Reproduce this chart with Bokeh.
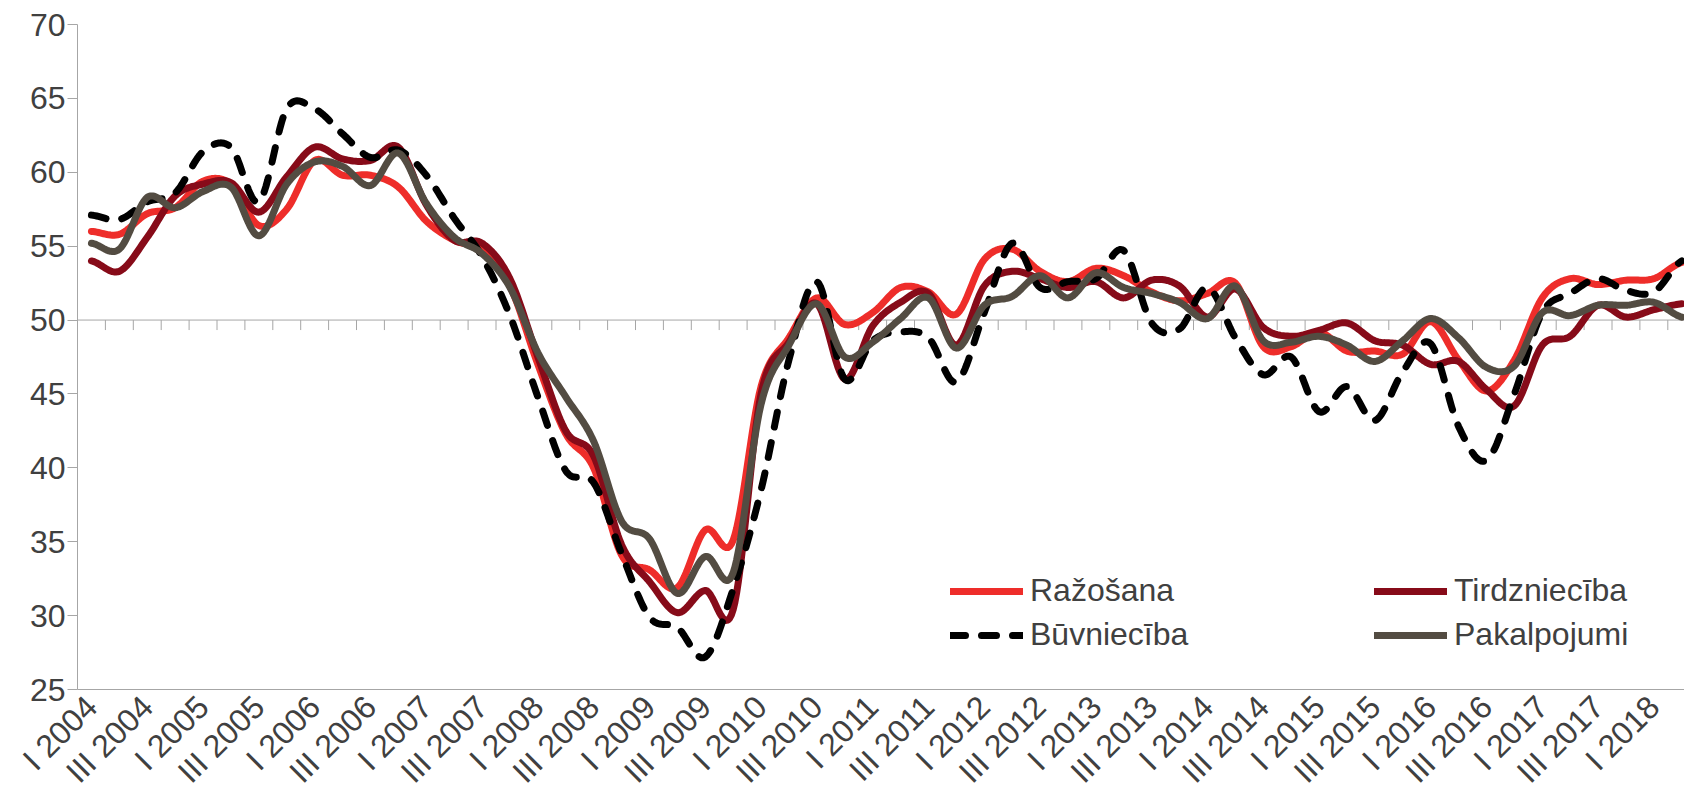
import math
from bokeh.plotting import figure
from bokeh.models import Range1d, FixedTicker, LinearAxis, Legend, LegendItem, Span
from bokeh.embed import file_html
from bokeh.resources import INLINE

categories = [
    "I 2004", "II 2004", "III 2004", "IV 2004",
    "I 2005", "II 2005", "III 2005", "IV 2005",
    "I 2006", "II 2006", "III 2006", "IV 2006",
    "I 2007", "II 2007", "III 2007", "IV 2007",
    "I 2008", "II 2008", "III 2008", "IV 2008",
    "I 2009", "II 2009", "III 2009", "IV 2009",
    "I 2010", "II 2010", "III 2010", "IV 2010",
    "I 2011", "II 2011", "III 2011", "IV 2011",
    "I 2012", "II 2012", "III 2012", "IV 2012",
    "I 2013", "II 2013", "III 2013", "IV 2013",
    "I 2014", "II 2014", "III 2014", "IV 2014",
    "I 2015", "II 2015", "III 2015", "IV 2015",
    "I 2016", "II 2016", "III 2016", "IV 2016",
    "I 2017", "II 2017", "III 2017", "IV 2017",
    "I 2018", "II 2018",
]
tick_labels = categories[::2]

razosana = [56.0, 55.8, 57.2, 57.6, 59.4, 59.2, 56.4, 57.5, 60.8, 59.8,
            59.8, 59.0, 56.7, 55.4, 54.7, 52.3, 47.0, 42.3, 40.0, 34.1,
            33.1, 31.9, 35.8, 35.1, 45.5, 48.8, 51.5, 49.7, 50.5, 52.2,
            51.9, 50.4, 54.1, 54.8, 53.3, 52.6, 53.5, 53.0, 51.9, 51.3,
            51.8, 52.5, 48.2, 48.2, 49.2, 47.9, 47.9, 47.7, 49.9, 47.3,
            45.2, 47.3, 51.5, 52.8, 52.4, 52.7, 52.8, 53.9]
tirdznieciba = [54.0, 53.3, 55.6, 58.4, 59.2, 59.3, 57.3, 59.7, 61.7, 60.9,
                60.8, 61.7, 57.8, 55.4, 55.2, 52.8, 47.5, 42.5, 40.8, 34.8,
                32.3, 30.2, 31.7, 30.4, 45.0, 48.5, 51.1, 46.0, 49.6, 51.2,
                51.8, 48.3, 52.3, 53.3, 52.8, 52.2, 52.6, 51.5, 52.7, 52.3,
                50.2, 52.1, 49.5, 48.9, 49.3, 49.8, 48.6, 48.3, 47.0, 47.2,
                45.3, 44.2, 48.3, 48.9, 51.0, 50.2, 50.7, 51.1]
buvnieciba = [57.1, 56.8, 58.0, 58.6, 61.4, 61.7, 58.0, 64.3, 64.3, 62.6,
              61.0, 61.5, 59.8, 56.9, 54.3, 50.3, 44.8, 39.8, 39.0, 34.2,
              29.9, 29.2, 27.2, 31.8, 38.5, 47.3, 52.6, 46.0, 48.6, 49.2,
              48.8, 45.8, 50.5, 55.2, 52.2, 52.6, 52.8, 54.7, 49.8, 49.4,
              52.2, 48.8, 46.3, 47.5, 43.8, 45.5, 43.2, 46.5, 48.4, 42.8,
              40.5, 45.0, 50.5, 51.8, 52.8, 52.0, 51.9, 54.0]
pakalpojumi = [55.2, 54.8, 58.3, 57.6, 58.7, 59.0, 55.7, 59.2, 60.7, 60.4,
               59.1, 61.3, 57.9, 55.6, 54.5, 52.2, 47.8, 44.8, 41.8, 36.4,
               35.2, 31.5, 34.0, 32.9, 44.3, 48.3, 51.1, 47.5, 48.5, 50.1,
               51.5, 48.1, 51.0, 51.6, 53.0, 51.5, 53.2, 52.2, 51.8, 51.2,
               50.1, 52.3, 48.6, 48.5, 48.9, 48.3, 47.2, 48.6, 50.1, 48.8,
               46.8, 46.9, 50.5, 50.3, 51.0, 51.0, 51.2, 50.2]

series_names = ["Ražošana", "Tirdzniecība", "Būvniecība", "Pakalpojumi"]
series_colors = ["#EE2D2A", "#870B19", "#000000", "#534C42"]

FONT = "Liberation Sans"
TXT = "#404040"
AX = "#A6A6A6"
FS = "32px"

n = len(categories)
xs = list(range(n))
W, H = 1684, 805
LEFT, TOP, BOTTOM = 77, 24, 116
FRAME_H = H - TOP - BOTTOM
cat_px = 27.9
x_end = -0.5 + (W - LEFT) / cat_px
y_lo, y_hi, y_cross = 25, 70, 50

p = figure(width=W, height=H, x_range=Range1d(-0.5, x_end), y_range=Range1d(y_lo, y_hi),
           x_axis_location=None, output_backend="svg", toolbar_location=None,
           min_border_left=LEFT, min_border_right=0, min_border_top=TOP,
           min_border_bottom=BOTTOM)
p.outline_line_color = None
p.xgrid.visible = False

ya = p.yaxis[0]
ya.ticker = FixedTicker(ticks=list(range(y_lo, y_hi + 1, 5)))
ya.major_tick_out = 10
ya.major_tick_in = 0
ya.minor_tick_line_color = None
ya.axis_line_color = AX
ya.major_tick_line_color = AX
ya.major_label_text_font = FONT
ya.major_label_text_font_size = FS
ya.major_label_text_color = TXT
ya.major_label_standoff = 2

p.ygrid.ticker = FixedTicker(ticks=[y_hi])
p.ygrid.grid_line_color = AX
p.ygrid.grid_line_width = 1

lab = LinearAxis(ticker=FixedTicker(ticks=xs[::2]),
                 major_label_overrides={x: t for x, t in zip(xs[::2], tick_labels)},
                 major_label_orientation=math.pi / 4,
                 axis_line_color=AX, major_tick_line_color=None, minor_tick_line_color=None,
                 major_label_text_font=FONT, major_label_text_font_size=FS,
                 major_label_text_color=TXT, major_label_standoff=6)
p.add_layout(lab, "below")

# category axis crossing at 50: line plus tick marks between categories
p.add_layout(Span(location=y_cross, dimension="width", line_color=AX, line_width=1,
                  level="underlay"))
tick_len = 10 * (y_hi - y_lo) / FRAME_H
bounds = [i - 0.5 for i in range(n + 1)]
p.segment(x0=bounds, y0=[y_cross] * len(bounds), x1=bounds,
          y1=[y_cross - tick_len] * len(bounds), line_color=AX, line_width=1,
          level="underlay")


def smooth_path(xv, yv, steps=16):
    """Catmull-Rom curve through the data points (like a spreadsheet's smoothed line)."""
    ox, oy = [], []
    m = len(yv)
    for i in range(m - 1):
        p0 = yv[i - 1] if i > 0 else yv[i]
        p1, p2 = yv[i], yv[i + 1]
        p3 = yv[i + 2] if i + 2 < m else yv[i + 1]
        for s in range(steps):
            t = s / steps
            t2, t3 = t * t, t * t * t
            yy = 0.5 * ((2 * p1) + (-p0 + p2) * t + (2 * p0 - 5 * p1 + 4 * p2 - p3) * t2
                        + (-p0 + 3 * p1 - 3 * p2 + p3) * t3)
            ox.append(xv[i] + (xv[i + 1] - xv[i]) * t)
            oy.append(yy)
    ox.append(xv[-1])
    oy.append(yv[-1])
    return ox, oy


renderers = []
for vals, color, name in zip([razosana, tirdznieciba, buvnieciba, pakalpojumi],
                             series_colors, series_names):
    kw = dict(line_color=color, line_width=7, line_cap="round", line_join="round")
    if name == "Būvniecība":
        kw["line_dash"] = "15 16"
    sx, sy = smooth_path(xs, vals)
    r = p.line(x=sx, y=sy, **kw)
    renderers.append(r)

legend_style = dict(background_fill_alpha=0, border_line_color=None, padding=0, margin=0,
                    spacing=7, glyph_width=73, glyph_height=36, label_height=36,
                    label_standoff=7, label_text_font=FONT, label_text_font_size=FS,
                    label_text_color=TXT)
leg1 = Legend(items=[LegendItem(label=series_names[0], renderers=[renderers[0]]),
                     LegendItem(label=series_names[2], renderers=[renderers[2]])],
              location=(873, 36), **legend_style)
leg2 = Legend(items=[LegendItem(label=series_names[1], renderers=[renderers[1]]),
                     LegendItem(label=series_names[3], renderers=[renderers[3]])],
              location=(1297, 36), **legend_style)
p.add_layout(leg1)
p.add_layout(leg2)

html = file_html(p, INLINE, title="chart")
with open("out.html", "w", encoding="utf-8") as f:
    f.write(html)
